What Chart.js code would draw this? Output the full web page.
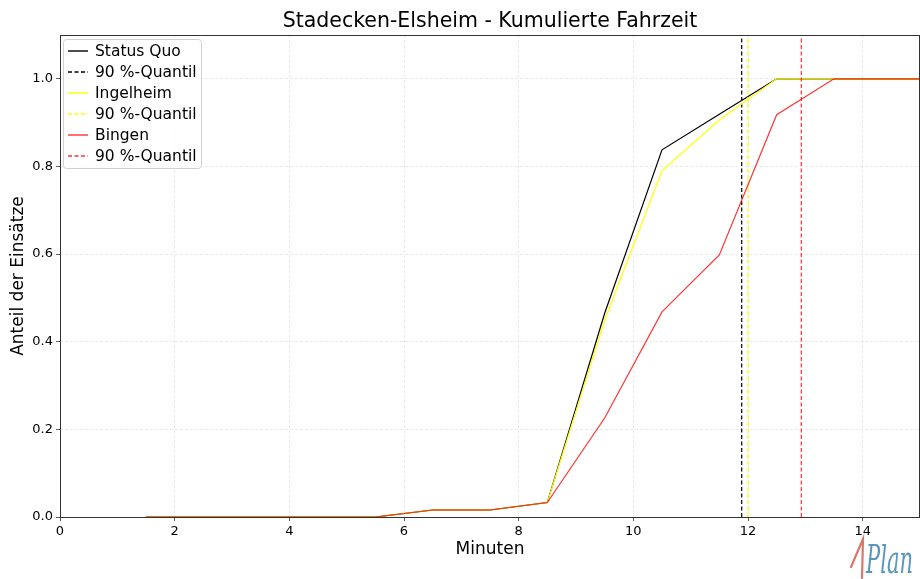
<!DOCTYPE html>
<html>
<head>
<meta charset="utf-8">
<script src="https://cdn.jsdelivr.net/npm/chart.js@4"></script>
<style>
  html, body { margin: 0; padding: 0; background: #fff; }
  #wrap { width: 920px; height: 579px; }
</style>
</head>
<body>
<div id="wrap"><canvas id="line-chart" width="920" height="579"></canvas></div>
<script>
// Minuten (bin centres) and cumulative share of operations
const minutes = [1.5, 2.5, 3.5, 4.5, 5.5, 6.5, 7.5, 8.5, 9.5, 10.5, 11.5, 12.5, 13.5, 14.5, 15.5];
const statusQuo = [0, 0, 0, 0, 0, 0.016, 0.016, 0.033, 0.465, 0.838, 0.919, 1, 1, 1, 1];
const ingelheim = [0, 0, 0, 0, 0, 0.016, 0.016, 0.033, 0.449, 0.790, 0.906, 1, 1, 1, 1];
const bingen = [0, 0, 0, 0, 0, 0.016, 0.016, 0.033, 0.226, 0.468, 0.598, 0.918, 1, 1, 1];
// 90 %-Quantil per scenario
const quantiles = [11.89, 12.0, 12.93];
const seriesNames = ["Status Quo", "Ingelheim", "Bingen"];
const seriesColors = ["#000000", "#ffff00", "rgba(255,0,0,0.8)"];
const xTicks = [0, 2, 4, 6, 8, 10, 12, 14];
const yTicks = [0, 0.2, 0.4, 0.6, 0.8, 1.0];

const FONT = "'DejaVu Sans', sans-serif";

function pts(ys) { return minutes.map((m, i) => ({ x: m, y: ys[i] })); }
function vline(q) { return [{ x: q, y: 0 }, { x: q, y: 1.1 }]; }

const values = [statusQuo, ingelheim, bingen];
const datasets = [];
let order = 10;
values.forEach((v, i) => {
  datasets.push({
    label: seriesNames[i],
    data: pts(v),
    borderColor: seriesColors[i],
    borderWidth: 1.2,
    pointRadius: 0,
    tension: 0,
    order: order--
  });
  datasets.push({
    label: "90 %-Quantil",
    data: vline(quantiles[i]),
    borderColor: seriesColors[i],
    borderWidth: 1.2,
    borderDash: [4, 2.5],
    pointRadius: 0,
    order: order--
  });
});

// frame, title, legend and logo
const decor = {
  id: 'decor',
  afterDraw(chart) {
    const ctx = chart.ctx;
    const a = chart.chartArea;
    ctx.save();
    ctx.strokeStyle = '#333';
    ctx.lineWidth = 1;
    ctx.strokeRect(a.left + 0.5, a.top + 0.5, a.right - a.left - 1, a.bottom - a.top);

    ctx.fillStyle = '#000';
    ctx.font = "20.5px " + FONT;
    ctx.textAlign = 'center';
    ctx.textBaseline = 'middle';
    ctx.fillText("Stadecken-Elsheim - Kumulierte Fahrzeit", (a.left + a.right) / 2, 22);

    // legend
    const lx = a.left + 3, ly = a.top + 4, lw = 138, lh = 129;
    ctx.fillStyle = 'rgba(255,255,255,0.8)';
    ctx.strokeStyle = '#d0d0d0';
    ctx.beginPath();
    ctx.roundRect(lx + 0.5, ly + 0.5, lw, lh, 3);
    ctx.fill();
    ctx.stroke();
    ctx.font = "15.5px " + FONT;
    ctx.textAlign = 'left';
    chart.data.datasets.forEach((ds, i) => {
      const y = ly + 12 + i * 21;
      ctx.strokeStyle = ds.borderColor;
      ctx.lineWidth = 1.4;
      ctx.setLineDash(ds.borderDash || []);
      ctx.beginPath();
      ctx.moveTo(lx + 5, y);
      ctx.lineTo(lx + 25, y);
      ctx.stroke();
      ctx.setLineDash([]);
      ctx.fillStyle = '#000';
      ctx.fillText(ds.label, lx + 32, y + 1);
    });

    // logo
    ctx.strokeStyle = '#d9776b';
    ctx.lineWidth = 2.2;
    ctx.lineCap = 'round';
    ctx.beginPath();
    ctx.moveTo(851, 567);
    ctx.lineTo(863, 539);
    ctx.lineTo(862, 578);
    ctx.stroke();
    ctx.fillStyle = '#5a97bd';
    ctx.font = "italic 40px 'DejaVu Serif', serif";
    ctx.textBaseline = 'alphabetic';
    const w = ctx.measureText("Plan").width;
    ctx.translate(866, 573);
    ctx.scale(47 / w, 1);
    ctx.fillText("Plan", 0, 0);
    ctx.restore();
  }
};

new Chart(document.getElementById("line-chart"), {
  type: 'line',
  data: { datasets: datasets },
  plugins: [decor],
  options: {
    responsive: false,
    animation: false,
    layout: { padding: { top: 35, right: 0, left: 0, bottom: 0 } },
    plugins: {
      legend: { display: false },
      title: { display: false },
      tooltip: { enabled: false }
    },
    scales: {
      x: {
        type: 'linear',
        min: 0,
        max: 15,
        afterFit(s) { s.height = 62; },
        afterBuildTicks(s) { s.ticks = xTicks.map(v => ({ value: v })); },
        ticks: { font: { family: FONT, size: 13 }, color: '#000', padding: 3,
                 callback: v => String(v), maxRotation: 0 },
        grid: { color: 'rgba(0,0,0,0.11)', lineWidth: 0.8, tickLength: 4, tickColor: '#333', tickBorderDash: [] },
        border: { display: false, dash: [3, 2] },
        title: { display: true, text: 'Minuten', font: { family: FONT, size: 17 }, color: '#000',
                 padding: { top: 0, bottom: 19 } }
      },
      y: {
        type: 'linear',
        min: 0,
        max: 1.1,
        afterFit(s) { s.width = 60; },
        afterBuildTicks(s) { s.ticks = yTicks.map(v => ({ value: v })); },
        ticks: { font: { family: FONT, size: 13 }, color: '#000', padding: 3,
                 callback: v => v.toFixed(1) },
        grid: { color: 'rgba(0,0,0,0.11)', lineWidth: 0.8, tickLength: 4, tickColor: '#333', tickBorderDash: [] },
        border: { display: false, dash: [3, 2] },
        title: { display: true, text: 'Anteil der Einsätze', font: { family: FONT, size: 17 }, color: '#000',
                 padding: { top: 8, bottom: 0 } }
      }
    }
  }
});
</script>
</body>
</html>
